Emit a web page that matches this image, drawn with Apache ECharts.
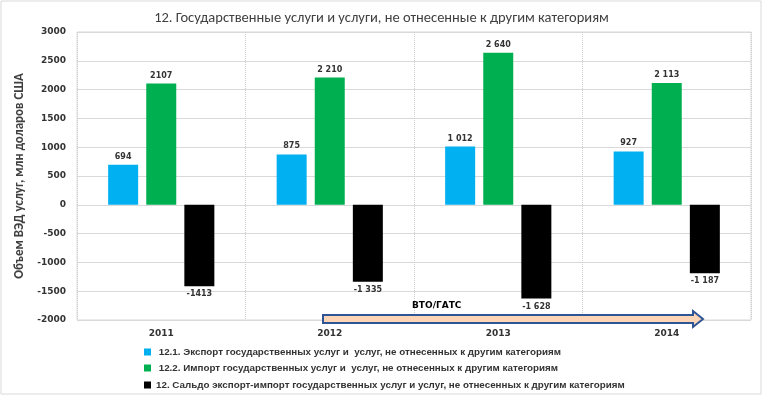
<!DOCTYPE html>
<html><head><meta charset="utf-8">
<script src="https://cdn.jsdelivr.net/npm/echarts@6/dist/echarts.min.js"></script>
<style>html,body{margin:0;padding:0;background:#fff}#c{width:763px;height:396px}</style>
</head><body><div id="c"></div>
<script>
const categories = ['2011', '2012', '2013', '2014'];
const exportVals = [694, 875, 1012, 927];
const importVals = [2107, 2210, 2640, 2113];
const saldoVals = [-1413, -1335, -1628, -1187];
const exportLabels = ['694', '875', '1 012', '927'];
const importLabels = ['2107', '2 210', '2 640', '2 113'];
const saldoLabels = ['-1413', '-1 335', '-1 628', '-1 187'];
const seriesNames = [
  '12.1. Экспорт государственных услуг и  услуг, не отнесенных к другим категориям',
  '12.2. Импорт государственных услуг и  услуг, не отнесенных к другим категориям',
  '12. Сальдо экспорт-импорт государственных услуг и услуг, не отнесенных к другим категориям'
];
const yTicks = {min: -2000, max: 3000, interval: 500};
const titleText = '12. Государственные услуги и услуги, не отнесенные к другим категориям';
const yName = 'Объем ВЭД услуг, млн доларов США';
const arrowText = 'ВТО/ГАТС';

const calibri = 'Carlito, Calibri, Lato, sans-serif';
const verd = '"DejaVu Sans", Verdana, sans-serif';
const labelStyle = {show: true, fontSize: 8, fontWeight: 'bold', color: '#333', fontFamily: verd, distance: 4};
function mkLabel(arr, pos){ return Object.assign({}, labelStyle, {position: pos, formatter: p => arr[p.dataIndex]}); }
const legendBase = {orient: 'vertical', itemWidth: 7, itemHeight: 7, itemGap: 6, icon: 'rect',
  textStyle: {fontSize: 9.8, fontWeight: 'bold', color: '#333', fontFamily: '"Liberation Sans", Arial, sans-serif'}, selectedMode: false};

const chart = echarts.init(document.getElementById('c'), null, {renderer: 'canvas'});
chart.setOption({
  animation: false,
  backgroundColor: '#fff',
  title: {text: titleText, left: 'center', top: 6,
    textStyle: {fontSize: 14.5, fontWeight: 'normal', color: '#404040', fontFamily: calibri}},
  grid: {left: 77, right: 12, top: 32, bottom: 76, show: true, borderColor: '#d9d9d9', borderWidth: 1},
  xAxis: {type: 'category', data: categories,
    axisLine: {show: false}, axisTick: {show: false},
    splitLine: {show: true, lineStyle: {color: '#d0d0d0', type: 'dotted'}},
    axisLabel: {fontSize: 9, fontWeight: 'bold', color: '#333', fontFamily: verd, margin: 9}},
  yAxis: {type: 'value', min: yTicks.min, max: yTicks.max, interval: yTicks.interval,
    name: yName, nameLocation: 'middle', nameGap: 45, nameRotate: 90,
    nameTextStyle: {fontSize: 13, fontWeight: 'bold', color: '#404040', fontFamily: calibri},
    axisLine: {show: false}, axisTick: {show: false},
    splitLine: {lineStyle: {color: '#d9d9d9', width: 1}},
    axisLabel: {fontSize: 9, fontWeight: 'bold', color: '#333', fontFamily: verd, margin: 11, formatter: v => String(v)}},
  legend: [
    Object.assign({}, legendBase, {left: 139, top: 342, data: [seriesNames[0]], formatter: n => ' ' + n}),
    Object.assign({}, legendBase, {left: 139, top: 358, data: [seriesNames[1]], formatter: n => ' ' + n}),
    Object.assign({}, legendBase, {left: 139, top: 375, data: [seriesNames[2]], itemGap: 2, formatter: n => n})
  ],
  series: [
    {name: seriesNames[0], type: 'bar', data: exportVals, barWidth: 30, barGap: '27%',
     itemStyle: {color: '#00B0F0'}, label: mkLabel(exportLabels, 'top')},
    {name: seriesNames[1], type: 'bar', data: importVals, barWidth: 30,
     itemStyle: {color: '#00B050'}, label: mkLabel(importLabels, 'top')},
    {name: seriesNames[2], type: 'bar', data: saldoVals, barWidth: 30,
     itemStyle: {color: '#000000'}, label: mkLabel(saldoLabels, 'bottom')}
  ],
  graphic: [
    {type: 'rect', shape: {x: 1, y: 1, width: 760, height: 393}, style: {fill: 'none', stroke: '#d9d9d9', lineWidth: 1}, silent: true},
    {type: 'polygon', shape: {points: [[323, 315], [693, 315], [693, 311], [703, 319], [693, 327], [693, 323], [323, 323]]},
     style: {fill: '#FBD5B5', stroke: '#2F5597', lineWidth: 2}, z: 10},
    {type: 'text', left: 412, top: 301, style: {text: arrowText, fill: '#000', font: 'bold 9px ' + verd}, z: 10}
  ]
});
</script></body></html>
